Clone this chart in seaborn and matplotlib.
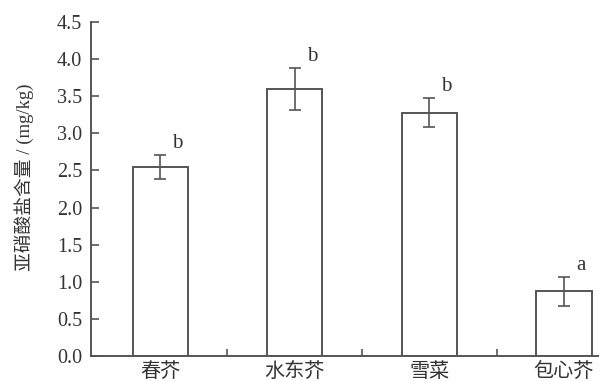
import matplotlib
matplotlib.use("Agg")
import matplotlib.pyplot as plt
import seaborn as sns
import pandas as pd

# Nitrite content of four mustard varieties (mean ± SD)
varieties = ["春芥", "水东芥", "雪菜", "包心芥"]
nitrite_mean = [2.55, 3.60, 3.28, 0.87]
nitrite_sd = [0.16, 0.28, 0.19, 0.19]
sig_letters = ["b", "b", "b", "a"]
y_ticks = [0.0, 0.5, 1.0, 1.5, 2.0, 2.5, 3.0, 3.5, 4.0, 4.5]

df = pd.DataFrame({"variety": varieties, "nitrite": nitrite_mean})

sns.set_theme(style="ticks")
fams = ["Liberation Serif", "Noto Sans CJK SC", "DejaVu Sans"]
plt.rcParams["font.family"] = fams

line_col = "#555555"
text_col = "#333333"

fig = plt.figure(figsize=(5.99, 3.81), dpi=100)
ax = fig.add_axes([0.152, 0.0656, 0.848, 0.8766])

sns.barplot(data=df, x="variety", y="nitrite", ax=ax, color="white",
            edgecolor=line_col, linewidth=1.4, width=0.41, errorbar=None)

xs = list(range(len(varieties)))
ax.errorbar(xs, nitrite_mean, yerr=nitrite_sd, fmt="none", ecolor=line_col,
            elinewidth=1.2, capsize=4, capthick=1.2, zorder=5)

for x, m, s, lab in zip(xs, nitrite_mean, nitrite_sd, sig_letters):
    ax.text(x + 0.09, m + s + 0.03, lab, ha="left", va="bottom",
            fontsize=15, color=text_col, family=fams)

ax.set_ylim(0, 4.5)
ax.set_xlim(-0.513, 3.26)
ax.set_yticks(y_ticks)
ax.set_yticklabels([f"{v:.1f}" for v in y_ticks])
ax.set_xlabel("")
ax.set_ylabel("亚硝酸盐含量 / (mg/kg)", fontsize=13.5, color=text_col,
              family=fams)
ax.yaxis.set_label_coords(-0.112, 0.535)

ax.tick_params(axis="y", direction="in", length=6, width=1.2, color=line_col,
               labelsize=14.5, labelcolor=text_col, pad=6.5)
ax.tick_params(axis="x", which="major", length=0, labelsize=14.5,
               labelcolor=text_col, pad=5)
ax.set_xticks([0.5, 1.5, 2.5], minor=True)
ax.tick_params(axis="x", which="minor", direction="in", length=5, width=1.2,
               color=line_col)
for lbl in ax.get_xticklabels() + ax.get_yticklabels():
    lbl.set_family(fams)

sns.despine(ax=ax)
for side in ("left", "bottom"):
    ax.spines[side].set_color(line_col)
    ax.spines[side].set_linewidth(1.4)

fig.savefig("out.png", dpi=100)
